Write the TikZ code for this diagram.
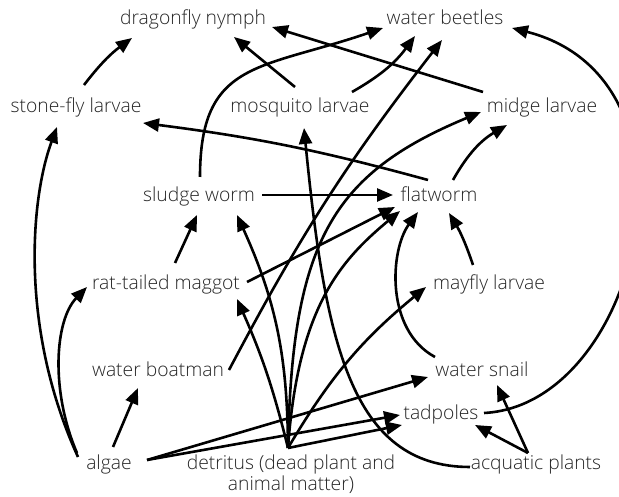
\documentclass[tikz,border=0pt]{standalone}
\usepackage{fontspec}
\setmainfont{Open Sans Light}
\usetikzlibrary{arrows.meta,calc}
\begin{document}
\begin{tikzpicture}[x=1pt,y=1pt,
  lbl/.style={anchor=base, inner sep=0pt, text=black!85, font=\fontsize{19.3}{21}\selectfont},
  edge/.style={line width=2.6pt, -{Triangle[length=16pt,width=13pt]}}]
\useasboundingbox (0,0) rectangle (619,497);
\node[lbl] (dn) at (193,472) {dragonfly nymph};
\node[lbl] (wb) at (445,472) {water beetles};
\node[lbl] (sf) at (76,384) {stone-fly larvae};
\node[lbl] (ml) at (300,384) {mosquito larvae};
\node[lbl] (mi) at (542,384) {midge larvae};
\node[lbl] (sw) at (199,295) {sludge worm};
\node[lbl] (fw) at (439,295) {flatworm};
\node[lbl] (rt) at (166,207) {rat-tailed maggot};
\node[lbl] (my) at (489,207) {mayfly larvae};
\node[lbl] (bo) at (158,120) {water boatman};
\node[lbl] (sn) at (482,120) {water snail};
\node[lbl] (tp) at (441,77) {tadpoles};
\node[lbl] (al) at (109,27) {algae};
\node[lbl, align=center] (de) at (291,6) {detritus (dead plant and\\animal matter)};
\node[lbl] (ap) at (536,27) {acquatic plants};
% dragonfly nymph
\draw[edge] ($(sf.base)+(8,28)$) to[bend left=8] ($(dn.base)+(-61,-13)$);
\draw[edge] ($(ml.base)+(-5,26)$) -- ($(dn.base)+(41,-12)$);
\draw[edge] ($(mi.base)+(-59,21)$) -- ($(dn.base)+(79,-2)$);
% water beetles
\draw[edge] ($(sw.base)+(1,25)$) .. controls +(0,117) and +(-123,-42) .. ($(wb.base)+(-62,-3)$);
\draw[edge] ($(ml.base)+(52,21)$) to[bend right=12] ($(wb.base)+(-30,-11)$);
\draw[edge] ($(bo.base)+(71,7)$) to[bend left=5] ($(wb.base)+(-3,-15)$);
\draw[edge] ($(tp.base)+(43,7)$) .. controls +(156,8) and +(203,-52) .. ($(wb.base)+(67,-3)$);
% stone-fly larvae
\draw[edge] ($(al.base)+(-31,13)$) .. controls +(-58,127) and +(-27,-73) .. ($(sf.base)+(-19,-14)$);
\draw[edge] ($(fw.base)+(-11,22)$) to[bend right=4] ($(sf.base)+(67,-10)$);
% rat-tailed maggot
\draw[edge] ($(al.base)+(-32,17)$) .. controls +(-27,63) and +(-32,-33) .. ($(rt.base)+(-79,3)$);
\draw[edge] ($(de.base)+(-3,43)$) to[bend right=5] ($(rt.base)+(71,-9)$);
% water boatman
\draw[edge] ($(al.base)+(4,23)$) -- ($(bo.base)+(-20,-11)$);
% sludge worm
\draw[edge] ($(rt.base)+(9,27)$) -- ($(sw.base)+(-2,-13)$);
\draw[edge] ($(de.base)+(-3,43)$) to[bend right=12] ($(sw.base)+(38,-13)$);
% midge larvae
\draw[edge] ($(de.base)+(-3,43)$) .. controls +(4,206) and +(-149,-62) .. ($(mi.base)+(-61,1)$);
\draw[edge] ($(fw.base)+(14,22)$) to[bend left=15] ($(mi.base)+(-35,-12)$);
% mosquito larvae
\draw[edge] ($(ap.base)+(-66,3)$) .. controls +(-120,0) and +(21,-212) .. ($(ml.base)+(4,-15)$);
% flatworm
\draw[edge] ($(sw.base)+(63,7)$) -- ($(fw.base)+(-46,7)$);
\draw[edge] ($(rt.base)+(81,8)$) -- ($(fw.base)+(-44,-5)$);
\draw[edge] ($(de.base)+(-3,43)$) .. controls +(10,140) and +(-60,-50) .. ($(fw.base)+(-39,-9)$);
\draw[edge] ($(sn.base)+(-47,20)$) .. controls +(-50,27) and +(-28,-38) .. ($(fw.base)+(-21,-10)$);
\draw[edge] ($(my.base)+(-16,25)$) to[bend right=6] ($(fw.base)+(10,-11)$);
% mayfly larvae
\draw[edge] ($(de.base)+(-3,43)$) to[bend left=10] ($(my.base)+(-63,3)$);
% water snail
\draw[edge] ($(al.base)+(38,10)$) -- ($(sn.base)+(-54,0)$);
\draw[edge] ($(ap.base)+(-8,17)$) -- ($(sn.base)+(15,-8)$);
% tadpoles
\draw[edge] ($(al.base)+(38,10)$) -- ($(tp.base)+(-41,5)$);
\draw[edge] ($(de.base)+(-3,43)$) -- ($(tp.base)+(-39,-5)$);
\draw[edge] ($(ap.base)+(-8,17)$) -- ($(tp.base)+(34,-5)$);
\end{tikzpicture}
\end{document}
